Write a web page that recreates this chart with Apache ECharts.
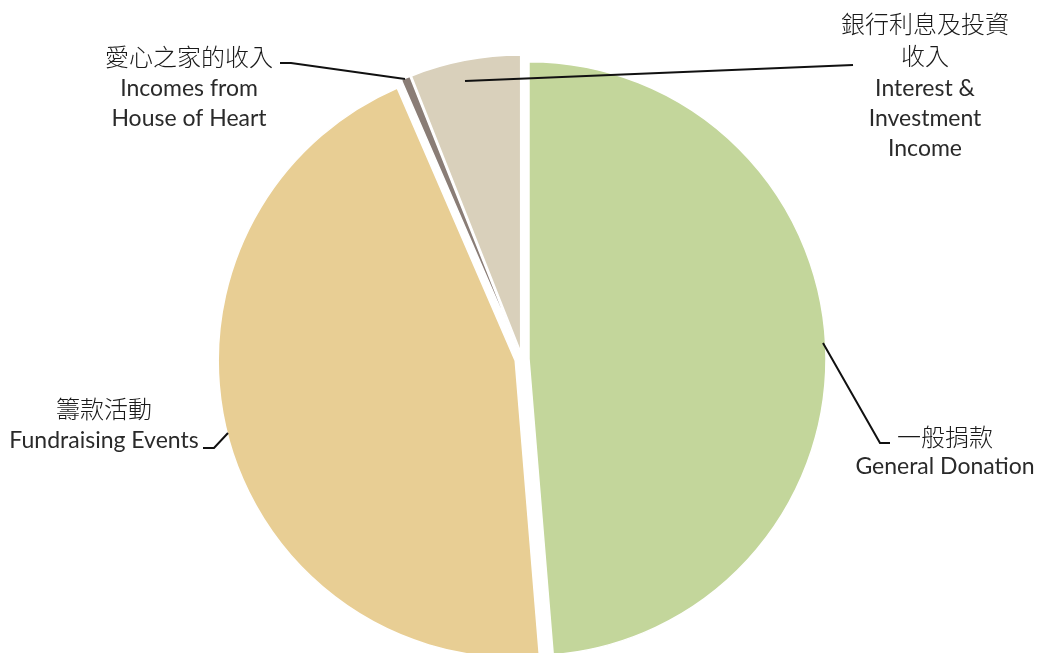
<!DOCTYPE html>
<html>
<head>
<meta charset="utf-8">
<script src="https://cdn.jsdelivr.net/npm/echarts@6/dist/echarts.min.js"></script>
<style>
html,body{margin:0;padding:0;background:#fff;}
#chart{width:1039px;height:653px;}
</style>
</head>
<body>
<div id="chart"></div>
<script>
const namesZh = ['一般捐款', '籌款活動', '愛心之家的收入', '銀行利息及投資\n收入'];
const namesEn = ['General Donation', 'Fundraising Events', 'Incomes from\nHouse of Heart', 'Interest &\nInvestment\nIncome'];
const values = [48.7, 44.8, 0.5, 6.0];
const colors = ['#c3d69b', '#e8ce94', '#8a7d76', '#d9d0bb'];

// annotation placement (label anchors and leader lines), not data
const labelLayout = [
  {x: 945, zhY: 437, enY: 467, line: [[823, 343], [880, 443], [890, 443]]},
  {x: 104, zhY: 409, enY: 441, line: [[228, 433], [214, 448], [203, 448]]},
  {x: 189, zhY: 57,  enY: 104, line: [[405, 79], [291, 63], [280, 63]]},
  {x: 925, zhY: 40,  enY: 119, line: [[465, 81], [853, 65]]}
];

const chart = echarts.init(document.getElementById('chart'));
const data = values.map((v, i) => ({
  name: namesEn[i],
  value: v,
  selected: true,
  itemStyle: {color: colors[i]}
}));

const graphics = [];
labelLayout.forEach((lp, i) => {
  graphics.push({
    type: 'polyline',
    shape: {points: lp.line},
    style: {stroke: '#111', lineWidth: 2, fill: null},
    z: 10
  });
  graphics.push({
    type: 'text', x: lp.x, y: lp.zhY, z: 10,
    style: {
      text: namesZh[i], align: 'center', verticalAlign: 'middle',
      fontFamily: '"Noto Sans CJK TC"', fontWeight: 300, fontSize: 24, lineHeight: 32, fill: '#1a1a1a'
    }
  });
  graphics.push({
    type: 'text', x: lp.x, y: lp.enY, z: 10,
    style: {
      text: namesEn[i], align: 'center', verticalAlign: 'middle',
      fontFamily: 'Lato', fontSize: 23, lineHeight: 30, fill: '#2a2a2a'
    }
  });
});

chart.setOption({
  animation: false,
  backgroundColor: '#ffffff',
  graphic: graphics,
  series: [{
    type: 'pie',
    center: [522, 359],
    radius: 297,
    startAngle: 90,
    clockwise: true,
    selectedMode: 'multiple',
    selectedOffset: 7,
    itemStyle: {borderColor: '#ffffff', borderWidth: 1.5},
    emphasis: {disabled: true},
    label: {show: false},
    labelLine: {show: false},
    data: data
  }]
});
</script>
</body>
</html>
